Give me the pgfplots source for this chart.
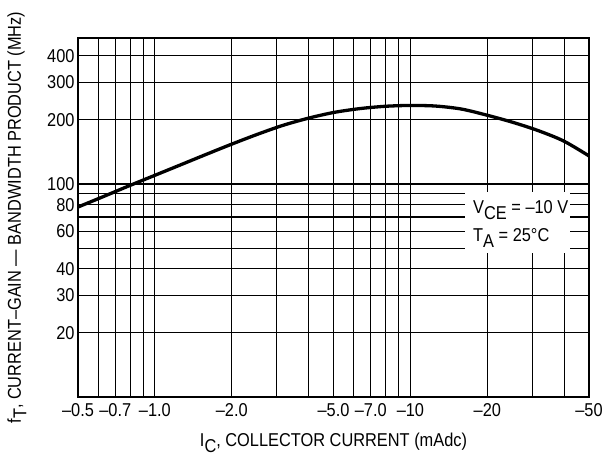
\documentclass[border=0pt]{standalone}
\usepackage{fontspec}
\setmainfont{Liberation Sans}[FakeStretch=0.88]
\usepackage{pgfplots}
\pgfplotsset{compat=1.18}

\newcommand{\fs}{\fontsize{18.6}{21}\selectfont}
\newcommand{\sub}[1]{\raisebox{-0.3em}{#1}}

\begin{document}
\begin{tikzpicture}
\useasboundingbox (-78pt,-59pt) rectangle (524pt,397pt);
\begin{axis}[
    at={(0,0)}, anchor=south west,
    scale only axis, width=511pt, height=359pt,
    xmode=log, ymode=log,
    xmin=0.5, xmax=50, ymin=10, ymax=485,
    xtick={0.5,0.6,0.7,0.8,0.9,1,2,3,4,5,6,7,8,9,10,20,30,40,50},
    xticklabels={–0.5,{},–0.7,{},{},–1.0,–2.0,{},{},–5.0,{},–7.0,{},{},–10,–20,{},{},–50},
    ytick={20,30,40,50,60,70,80,90,100,200,300,400},
    yticklabels={20,30,40,{},60,{},80,{},100,200,300,400},
    xminorticks=false, yminorticks=false,
    major tick length=0pt,
    grid=major,
    major grid style={line width=1.1pt, black},
    axis line style={line width=1.5pt},
    ticklabel style={font=\fs},
    xticklabel style={yshift=-3pt},
    label style={font=\fs},
    xlabel={I\sub{C}, COLLECTOR CURRENT (mAdc)},
    ylabel={f\sub{T}, CURRENT–GAIN — BANDWIDTH PRODUCT (MHz)},
    xlabel style={at={(axis description cs:0.5,-0.139)}, anchor=base},
    ylabel style={at={(axis description cs:-0.094,0.5)}, anchor=south},
]
% f_T vs I_C
\addplot[black, line width=3.3pt, smooth] coordinates {
    (0.5, 78.0)
    (0.631, 87.5)
    (0.794, 98.2)
    (1.0, 109.9)
    (1.259, 123.0)
    (1.585, 137.7)
    (1.995, 153.8)
    (2.512, 171.0)
    (3.162, 188.4)
    (3.981, 203.7)
    (5.012, 216.8)
    (6.310, 225.9)
    (7.943, 231.7)
    (10.0, 233.9)
    (12.59, 232.3)
    (15.85, 224.9)
    (19.95, 210.5)
    (25.12, 195.0)
    (31.62, 178.2)
    (39.81, 159.2)
    (50.0, 135.5)
};
\draw[line width=2.8pt, line cap=rect] (rel axis cs:0,1) -- (rel axis cs:0,0) -- (rel axis cs:1,0);
\node[fill=white, anchor=north west, inner sep=0pt, minimum width=105pt, minimum height=61pt] at (axis cs:16.36,91.7) {};
\node[anchor=base west, inner sep=0pt, font=\fs] at (axis cs:17.58,72.4) {V\sub{CE} = –10 V};
\node[anchor=base west, inner sep=0pt, font=\fs] at (axis cs:17.58,53.5) {T\sub{A} = 25°C};
\end{axis}
\end{tikzpicture}
\end{document}
